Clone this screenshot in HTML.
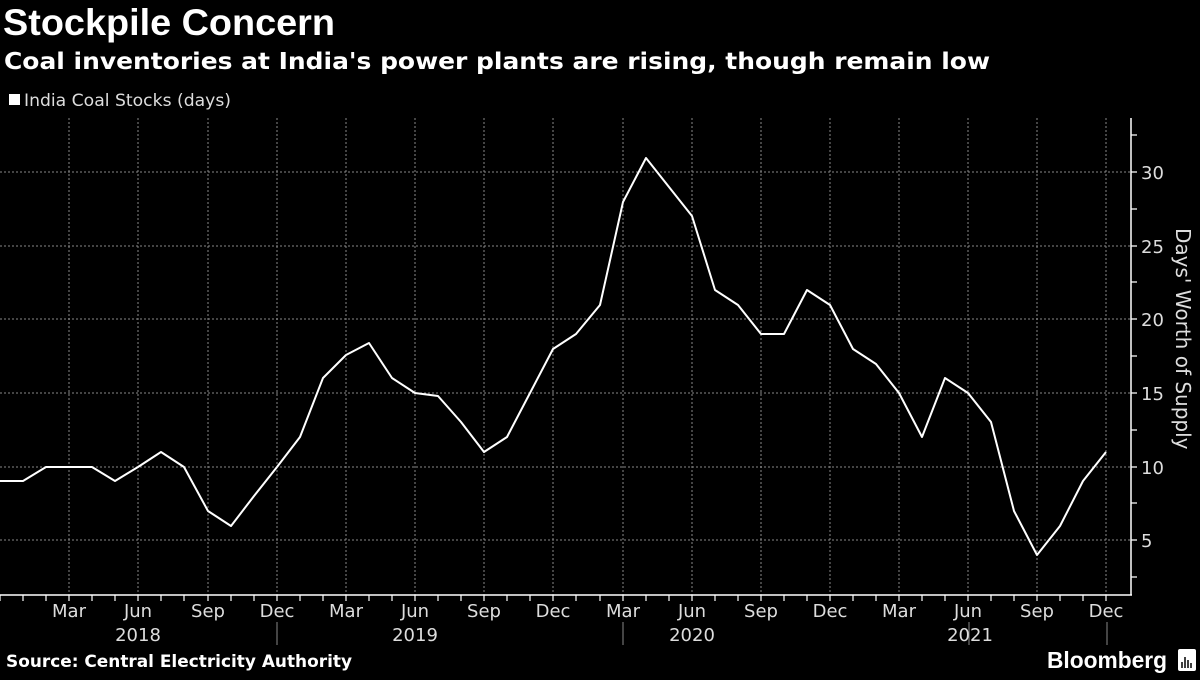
<!DOCTYPE html>
<html><head><meta charset="utf-8"><style>
body{margin:0;background:#000;width:1200px;height:675px;overflow:hidden;font-family:"Liberation Sans","DejaVu Sans",sans-serif}
</style></head><body>
<svg width="1200" height="675" xmlns="http://www.w3.org/2000/svg" font-family="DejaVu Sans, Liberation Sans, sans-serif">
<rect width="1200" height="675" fill="#000"/>
<text x="3" y="35" fill="#fff" font-size="37" font-weight="bold" font-family="Liberation Sans, sans-serif" textLength="332" lengthAdjust="spacingAndGlyphs">Stockpile Concern</text>
<text x="4" y="69" fill="#fff" font-size="23" font-weight="bold" textLength="986" lengthAdjust="spacingAndGlyphs">Coal inventories at India's power plants are rising, though remain low</text>
<rect x="9" y="94" width="11" height="11" fill="#fff"/>
<text x="24" y="106" fill="#ddd" font-size="17" textLength="207" lengthAdjust="spacingAndGlyphs">India Coal Stocks (days)</text>
<g stroke="#888" stroke-width="1" stroke-dasharray="2,2">
<line x1="0" x2="1131" y1="172" y2="172"/><line x1="0" x2="1131" y1="246" y2="246"/><line x1="0" x2="1131" y1="319" y2="319"/><line x1="0" x2="1131" y1="393" y2="393"/><line x1="0" x2="1131" y1="467" y2="467"/><line x1="0" x2="1131" y1="540" y2="540"/>
<line x1="69" x2="69" y1="118" y2="595"/><line x1="138" x2="138" y1="118" y2="595"/><line x1="208" x2="208" y1="118" y2="595"/><line x1="277" x2="277" y1="118" y2="595"/><line x1="346" x2="346" y1="118" y2="595"/><line x1="415" x2="415" y1="118" y2="595"/><line x1="484" x2="484" y1="118" y2="595"/><line x1="553" x2="553" y1="118" y2="595"/><line x1="623" x2="623" y1="118" y2="595"/><line x1="692" x2="692" y1="118" y2="595"/><line x1="761" x2="761" y1="118" y2="595"/><line x1="830" x2="830" y1="118" y2="595"/><line x1="899" x2="899" y1="118" y2="595"/><line x1="968" x2="968" y1="118" y2="595"/><line x1="1037" x2="1037" y1="118" y2="595"/><line x1="1106" x2="1106" y1="118" y2="595"/>
</g>
<g stroke="#fff" stroke-width="1.5">
<line x1="0" x2="1132" y1="595" y2="595"/><line x1="1131" x2="1131" y1="118" y2="595"/>
</g>
<g stroke="#fff" stroke-width="1.2">
<path d="M1131 172h6M1131 246h6M1131 319h6M1131 393h6M1131 467h6M1131 540h6M1131 135h6M1131 209h6M1131 282h6M1131 356h6M1131 430h6M1131 503h6M1131 577h6"/>
<path d="M0 595v6M23 595v6M46 595v6M69 595v6M92 595v6M115 595v6M138 595v6M161 595v6M184 595v6M208 595v6M231 595v6M254 595v6M277 595v6M300 595v6M323 595v6M346 595v6M369 595v6M392 595v6M415 595v6M438 595v6M461 595v6M484 595v6M507 595v6M530 595v6M553 595v6M576 595v6M600 595v6M623 595v6M646 595v6M669 595v6M692 595v6M715 595v6M738 595v6M761 595v6M784 595v6M807 595v6M830 595v6M853 595v6M876 595v6M899 595v6M922 595v6M945 595v6M968 595v6M991 595v6M1014 595v6M1037 595v6M1060 595v6M1083 595v6M1106 595v6"/>
</g>
<g stroke="#888" stroke-width="1"><path d="M277 622v23M623 622v23M969 622v23M1107 622v23"/></g>
<g fill="#ddd" font-size="18">
<text x="1141" y="179">30</text><text x="1141" y="253">25</text><text x="1141" y="326">20</text><text x="1141" y="400">15</text><text x="1141" y="474">10</text><text x="1141" y="547">5</text>
</g>
<text transform="translate(1176,228) rotate(90)" fill="#ddd" font-size="20">Days' Worth of Supply</text>
<g fill="#ddd" font-size="18" text-anchor="middle">
<text x="69" y="617">Mar</text><text x="138" y="617">Jun</text><text x="208" y="617">Sep</text><text x="277" y="617">Dec</text><text x="346" y="617">Mar</text><text x="415" y="617">Jun</text><text x="484" y="617">Sep</text><text x="553" y="617">Dec</text><text x="623" y="617">Mar</text><text x="692" y="617">Jun</text><text x="761" y="617">Sep</text><text x="830" y="617">Dec</text><text x="899" y="617">Mar</text><text x="968" y="617">Jun</text><text x="1037" y="617">Sep</text><text x="1106" y="617">Dec</text>
<text x="138" y="641">2018</text><text x="415" y="641">2019</text><text x="692" y="641">2020</text><text x="970" y="641">2021</text>
</g>
<polyline fill="none" stroke="#fff" stroke-width="2" stroke-linejoin="round" points="0,481 23,481 46,467 69,467 92,467 115,481 138,467 161,452 184,467 208,511 231,526 254,496 277,467 300,437 323,378 346,355 369,343 392,378 415,393 438,396 461,422 484,452 507,437 530,393 553,349 576,334 600,305 623,202 646,158 669,187 692,216 715,290 738,305 761,334 784,334 807,290 830,305 853,349 876,364 899,393 922,437 945,378 968,393 991,422 1014,511 1037,555 1060,526 1083,481 1106,452"/>
<text x="6" y="667" fill="#fff" font-size="17" font-weight="bold" textLength="346" lengthAdjust="spacingAndGlyphs">Source: Central Electricity Authority</text>
<text x="1047" y="668" fill="#fff" font-size="23" font-weight="bold" font-family="Liberation Sans, sans-serif" textLength="120" lengthAdjust="spacingAndGlyphs">Bloomberg</text>
<rect x="1178" y="649" width="18" height="22" rx="2" fill="#fff"/>
<path d="M1182 668v-6M1185 668v-11M1188 668v-8M1191 668v-5" stroke="#000" stroke-width="1.5"/>
</svg>
</body></html>
